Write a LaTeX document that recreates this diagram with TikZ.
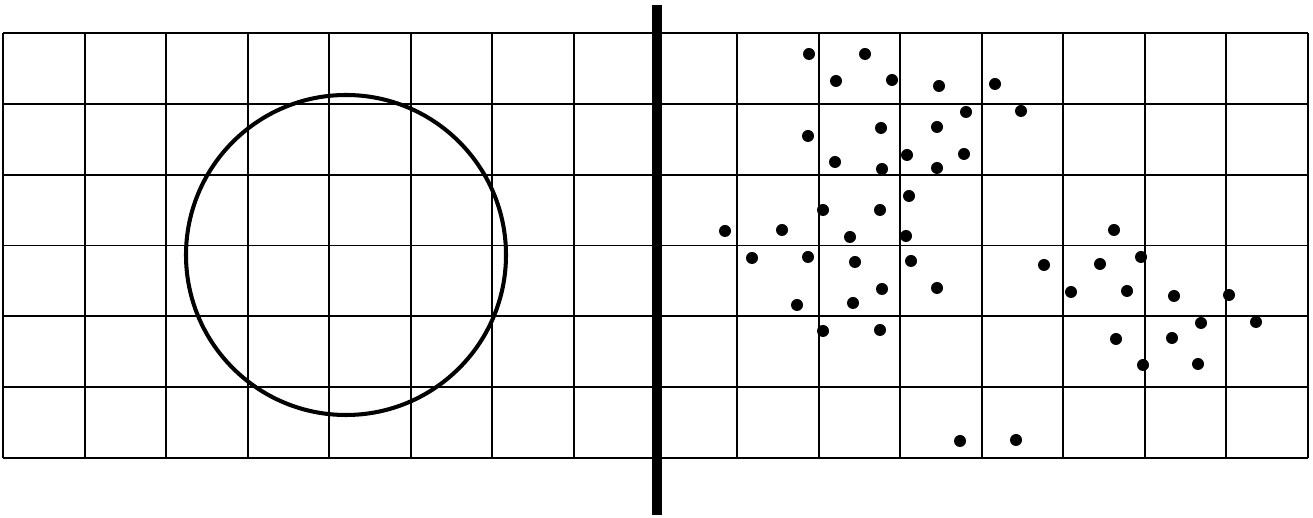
\documentclass[tikz,border=0pt]{standalone}
\usepackage{tikz}

\tikzset{
  gridline/.style={black, line width=1.1pt},
  ring/.style={black, line width=2.3pt},
  divider/.style={black, line width=5.2pt},
  dot/.style={fill=black}
}

\begin{document}
\begin{tikzpicture}[x=0.2mm, y=-0.2mm]
      \useasboundingbox (0,0) rectangle (1313,518);
      % grid over both halves
      \foreach \i in {0,...,16}
        \draw[gridline] ({3+81.5625*\i},33) -- ({3+81.5625*\i},458);
      \foreach \j in {0,...,6}
        \draw[gridline] (3,{33+70.83*\j}) -- (1308,{33+70.83*\j});
      \draw[ring] (346,255) circle[radius=160];
      \draw[divider] (657,5) -- (657,515);
      \foreach \px/\py in {809/54, 865/54, 836/81, 892/80, 939/86, 995/84,
          966/112, 1021/111, 881/128, 937/127, 808/136, 835/162, 882/169,
          907/155, 937/168, 964/154, 909/196, 823/210, 880/210, 725/231,
          782/230, 850/237, 906/236, 752/258, 808/257, 855/262, 911/261,
          882/289, 937/288, 797/305, 853/303, 823/331, 880/330, 960/441,
          1114/230, 1044/265, 1100/264, 1141/257, 1071/292, 1127/291,
          1174/296, 1229/295, 1201/323, 1256/322, 1116/339, 1172/338,
          1143/365, 1198/364, 1016/440}
        \fill[dot] (\px,\py) circle[radius=6];
    \end{tikzpicture}
\end{document}
